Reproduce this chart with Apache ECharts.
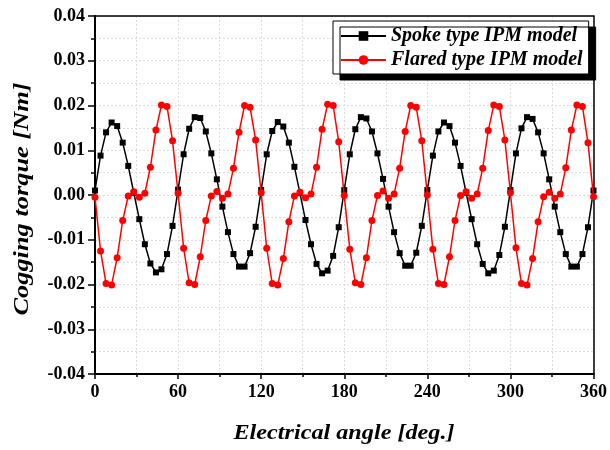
<!DOCTYPE html>
<html>
<head>
<meta charset="utf-8">
<script src="https://cdn.jsdelivr.net/npm/echarts@6/dist/echarts.min.js"></script>
<style>html,body{margin:0;padding:0;background:#fff}#c{width:610px;height:450px}</style>
</head>
<body>
<div id="c"></div>
<script>
var angles = [0,4,8,12,16,20,24,28,32,36,40,44,48,52,56,60,64,68,72,76,80,84,88,92,96,100,104,108,112,116,120,124,128,132,136,140,144,148,152,156,160,164,168,172,176,180,184,188,192,196,200,204,208,212,216,220,224,228,232,236,240,244,248,252,256,260,264,268,272,276,280,284,288,292,296,300,304,308,312,316,320,324,328,332,336,340,344,348,352,356,360];

var spoke = [0.001,0.0088,0.014,0.0162,0.0154,0.0117,0.0065,0.0005,-0.0054,-0.011,-0.0153,-0.0173,-0.0166,-0.0132,-0.0069,
0.0012,0.0091,0.0148,0.0174,0.0172,0.0142,0.0093,0.0035,-0.0026,-0.0083,-0.0132,-0.016,-0.016,-0.013,-0.0071,
0.0011,0.0091,0.0143,0.0163,0.0153,0.0117,0.0063,0.0004,-0.0056,-0.011,-0.0154,-0.0175,-0.0169,-0.0136,-0.0072,
0.0011,0.0091,0.0147,0.0174,0.0171,0.0142,0.0093,0.0036,-0.0026,-0.0083,-0.013,-0.0158,-0.0158,-0.0129,-0.0069,
0.0011,0.0088,0.0142,0.0162,0.0154,0.0117,0.0065,0.0005,-0.0054,-0.011,-0.0154,-0.0175,-0.0169,-0.0134,-0.0071,
0.0011,0.0093,0.0149,0.0174,0.017,0.014,0.0093,0.0035,-0.0026,-0.0083,-0.0132,-0.016,-0.016,-0.0132,-0.0072,
0.001];

var flared = [-0.0005,-0.0125,-0.0198,-0.0201,-0.014,-0.0057,-0.0002,0.0007,-0.0005,0.0004,0.0062,0.0145,0.0201,0.0198,0.0121,
0.0004,-0.0119,-0.0196,-0.02,-0.0138,-0.0057,-0.0002,0.0008,-0.0007,0.0002,0.006,0.014,0.02,0.0196,0.0123,
0.0005,-0.0119,-0.0198,-0.0201,-0.0142,-0.006,-0.0002,0.0006,-0.0006,0.0002,0.0062,0.0147,0.0203,0.02,0.0119,
-0.0001,-0.0121,-0.0196,-0.02,-0.014,-0.0057,-0.0001,0.0009,-0.0007,0.0002,0.006,0.0142,0.02,0.0196,0.0121,
0.0,-0.0121,-0.0198,-0.02,-0.0138,-0.0057,-0.0001,0.0007,-0.0007,0.0002,0.006,0.0144,0.0201,0.0198,0.0123,
0.0005,-0.0118,-0.0198,-0.0201,-0.0142,-0.006,-0.0004,0.0006,-0.0007,0.0002,0.0061,0.0145,0.0201,0.0198,0.0117,
-0.0004];

var seriesNames = ['Spoke type IPM model', 'Flared type IPM model'];
var xTitle = 'Electrical angle [deg.]';
var yTitle = 'Cogging torque [Nm]';

function pairs(xs, ys) { return xs.map(function (x, i) { return [x, ys[i]]; }); }

var serif = '"Liberation Serif", "Times New Roman", serif';
var titleFont = 'italic bold 22px ' + serif;
var frameAxis = {
  show: true,
  axisLine: { show: true, onZero: false, lineStyle: { color: '#000', width: 1.5 } },
  axisTick: { show: false }, axisLabel: { show: false }, splitLine: { show: false }
};
var chart = echarts.init(document.getElementById('c'), null, { renderer: 'canvas' });
chart.setOption({
  animation: false,
  backgroundColor: '#fff',
  grid: { left: 95, right: 16, top: 16, bottom: 76, show: false },
  legend: {
    orient: 'vertical',
    left: 333, top: 21,
    padding: [5, 6, 4, 7],
    itemGap: 4,
    itemWidth: 45, itemHeight: 12,
    backgroundColor: '#fff',
    borderColor: '#000', borderWidth: 1,
    shadowColor: '#000', shadowBlur: 0, shadowOffsetX: 7, shadowOffsetY: 6,
    textStyle: { fontFamily: serif, fontStyle: 'italic', fontWeight: 'bold', fontSize: 20, color: '#000' },
    data: seriesNames
  },
  graphic: [
    { type: 'text', x: 344, y: 433, scaleX: 1.1,
      style: { text: xTitle, font: titleFont, fill: '#000', align: 'center', verticalAlign: 'middle' } },
    { type: 'text', x: 22, y: 199, rotation: Math.PI / 2, scaleX: 1.2,
      style: { text: yTitle, font: titleFont, fill: '#000', align: 'center', verticalAlign: 'middle' } }
  ],
  xAxis: [{
    type: 'value', min: 0, max: 360, interval: 60,
    axisLine: { onZero: false, lineStyle: { color: '#000', width: 2 } },
    axisTick: { inside: false, length: 5, lineStyle: { color: '#000', width: 1.5 } },
    minorTick: { show: true, splitNumber: 2, length: 3, lineStyle: { color: '#000', width: 1.5 } },
    axisLabel: { fontFamily: serif, fontWeight: 'bold', fontSize: 18, color: '#000', margin: 9 },
    splitLine: { show: true, lineStyle: { color: '#dcdcdc', type: [2, 2], width: 1 } },
    minorSplitLine: { show: true, lineStyle: { color: '#dcdcdc', type: [2, 2], width: 1 } }
  }, Object.assign({ type: 'value', position: 'top', min: 0, max: 360, interval: 60 }, frameAxis)],
  yAxis: [{
    type: 'value', min: -0.04, max: 0.04, interval: 0.01,
    axisLine: { onZero: false, lineStyle: { color: '#000', width: 2 } },
    axisTick: { inside: false, length: 7, lineStyle: { color: '#000', width: 1.5 } },
    minorTick: { show: true, splitNumber: 2, length: 4, lineStyle: { color: '#000', width: 1.5 } },
    axisLabel: { fontFamily: serif, fontWeight: 'bold', fontSize: 18, color: '#000', margin: 10,
      formatter: function (v) { return v.toFixed(2); } },
    splitLine: { show: true, lineStyle: { color: '#dcdcdc', type: [2, 2], width: 1 } },
    minorSplitLine: { show: true, lineStyle: { color: '#dcdcdc', type: [2, 2], width: 1 } }
  }, Object.assign({ type: 'value', position: 'right', min: -0.04, max: 0.04, interval: 0.01 }, frameAxis)],
  series: [
    {
      name: seriesNames[0], type: 'line', data: pairs(angles, spoke),
      symbol: 'rect', symbolSize: 6, showAllSymbol: true,
      itemStyle: { color: '#000' }, lineStyle: { color: '#000', width: 1.5 }, z: 2
    },
    {
      name: seriesNames[1], type: 'line', data: pairs(angles, flared),
      symbol: 'circle', symbolSize: 7, showAllSymbol: true,
      itemStyle: { color: '#f00' }, lineStyle: { color: '#f00', width: 1.5 }, z: 3
    }
  ]
});
</script>
</body>
</html>
